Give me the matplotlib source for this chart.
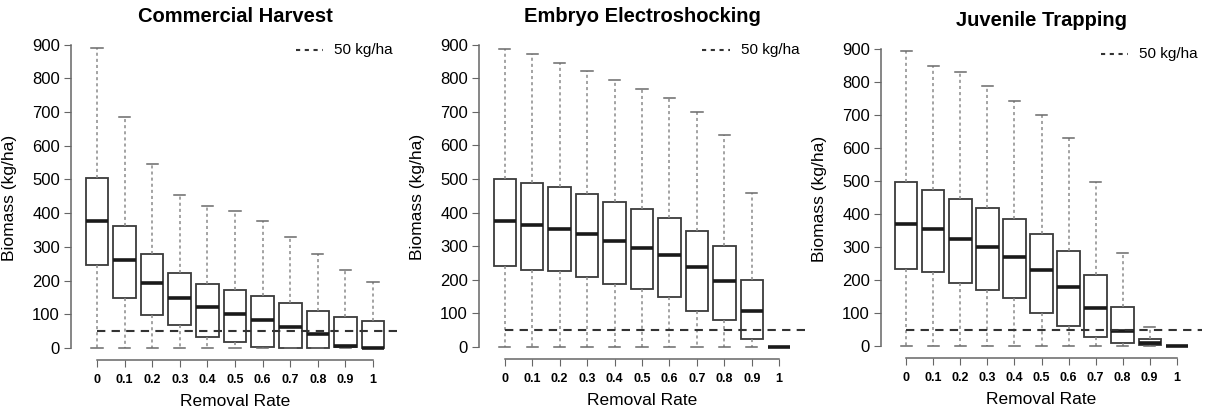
import matplotlib
matplotlib.use("Agg")
import matplotlib.pyplot as plt

plt.rcParams['font.family'] = ['Liberation Sans', 'DejaVu Sans']

rates = ["0", "0.1", "0.2", "0.3", "0.4", "0.5", "0.6", "0.7", "0.8", "0.9", "1"]
titles = ["Commercial Harvest", "Embryo Electroshocking", "Juvenile Trapping"]
threshold = 50
threshold_label = "50 kg/ha"

# Commercial Harvest
ch_low = [0, 0, 0, 0, 0, 0, 0, 0, 0, 0, 0]
ch_q1 = [245, 148, 97, 67, 33, 17, 2, 0, 0, 3, 0]
ch_med = [378, 260, 193, 148, 120, 102, 83, 63, 40, 7, 0]
ch_q3 = [503, 363, 278, 222, 190, 173, 153, 132, 110, 92, 80]
ch_high = [890, 687, 545, 455, 420, 405, 378, 330, 278, 232, 197]

# Embryo Electroshocking
ee_low = [0, 0, 0, 0, 0, 0, 0, 0, 0, 0, 0]
ee_q1 = [242, 230, 225, 207, 188, 173, 150, 108, 80, 25, 0]
ee_med = [375, 362, 350, 336, 316, 296, 273, 237, 195, 107, 0]
ee_q3 = [500, 488, 475, 456, 433, 412, 385, 345, 300, 200, 0]
ee_high = [888, 872, 845, 823, 795, 767, 740, 700, 630, 458, 0]

# Juvenile Trapping
jt_low = [0, 0, 0, 0, 0, 0, 0, 0, 0, 0, 0]
jt_q1 = [232, 223, 190, 170, 145, 100, 62, 27, 8, 2, 0]
jt_med = [368, 354, 323, 300, 270, 230, 180, 115, 47, 8, 0]
jt_q3 = [496, 473, 445, 418, 383, 340, 288, 215, 117, 22, 0]
jt_high = [893, 848, 828, 787, 740, 698, 630, 495, 282, 57, 0]

panels = [
    (ch_low, ch_q1, ch_med, ch_q3, ch_high),
    (ee_low, ee_q1, ee_med, ee_q3, ee_high),
    (jt_low, jt_q1, jt_med, jt_q3, jt_high),
]

W, H = 1205, 408
fig = plt.figure(figsize=(W / 100, H / 100), dpi=100)

# axes rectangles in pixels: left, top, right, bottom
rects = [(71, 35, 399, 360), (479, 35, 805, 359), (881, 39, 1202, 358)]
title_y = [16, 17, 20]

axis_col = "#666666"
for (x0, y0, x1, y1), title, data, ty in zip(rects, titles, panels, title_y):
    ax = fig.add_axes([x0 / W, 1 - y1 / H, (x1 - x0) / W, (y1 - y0) / H])
    lo, q1, med, q3, hi = data
    stats = []
    for i in range(len(rates)):
        stats.append(dict(whislo=lo[i], q1=q1[i], med=med[i], q3=q3[i],
                          whishi=hi[i], fliers=[], label=rates[i]))
    pos = list(range(len(rates)))
    ax.bxp(stats, positions=pos, widths=0.82, patch_artist=True,
           showfliers=False,
           boxprops=dict(facecolor="white", edgecolor="#3a3a3a", linewidth=1.3),
           medianprops=dict(color="#1a1a1a", linewidth=2.6, solid_capstyle="butt"),
           whiskerprops=dict(color="#8a8a8a", linewidth=1.1, linestyle=(0, (2, 2))),
           capprops=dict(color="#6a6a6a", linewidth=1.1),
           capwidths=0.41, zorder=2)
    ax.set_xlim(-0.94, 10.94)
    ax.set_ylim(-36, 929)
    ax.plot([0, 10.94], [threshold, threshold], color="#333333",
            linestyle=(0, (4, 3)), linewidth=1.5, zorder=3)
    # legend
    ax.plot([7.2, 8.2], [885, 885], color="#333333", linestyle=(0, (2, 2.2)),
            linewidth=1.5, clip_on=False)
    ax.text(8.6, 885, threshold_label, fontsize=11, va="center", ha="left")

    for s in ["top", "right"]:
        ax.spines[s].set_visible(False)
    ax.spines["left"].set_bounds(0, 900)
    ax.spines["bottom"].set_bounds(0, 10)
    for s in ["left", "bottom"]:
        ax.spines[s].set_color(axis_col)
        ax.spines[s].set_linewidth(1.1)
    ax.set_yticks(range(0, 901, 100))
    ax.set_xticks(pos)
    ax.set_xticklabels(rates)
    ax.tick_params(axis="y", labelsize=12, length=5, color=axis_col, pad=3)
    ax.tick_params(axis="x", labelsize=9, length=5, color=axis_col, pad=5)
    for t in ax.get_xticklabels():
        t.set_fontweight("bold")
    fig.text((x0 + x1) / 2 / W, 1 - ty / H, title, fontsize=14.5,
             fontweight="bold", ha="center", va="center")
    ax.set_ylabel("Biomass (kg/ha)", fontsize=12.5)
    ax.yaxis.set_label_coords(-54 / (x1 - x0), 0.5)
    ax.set_xlabel("Removal Rate", fontsize=12.5, labelpad=6)

fig.savefig("out.png", dpi=100)
